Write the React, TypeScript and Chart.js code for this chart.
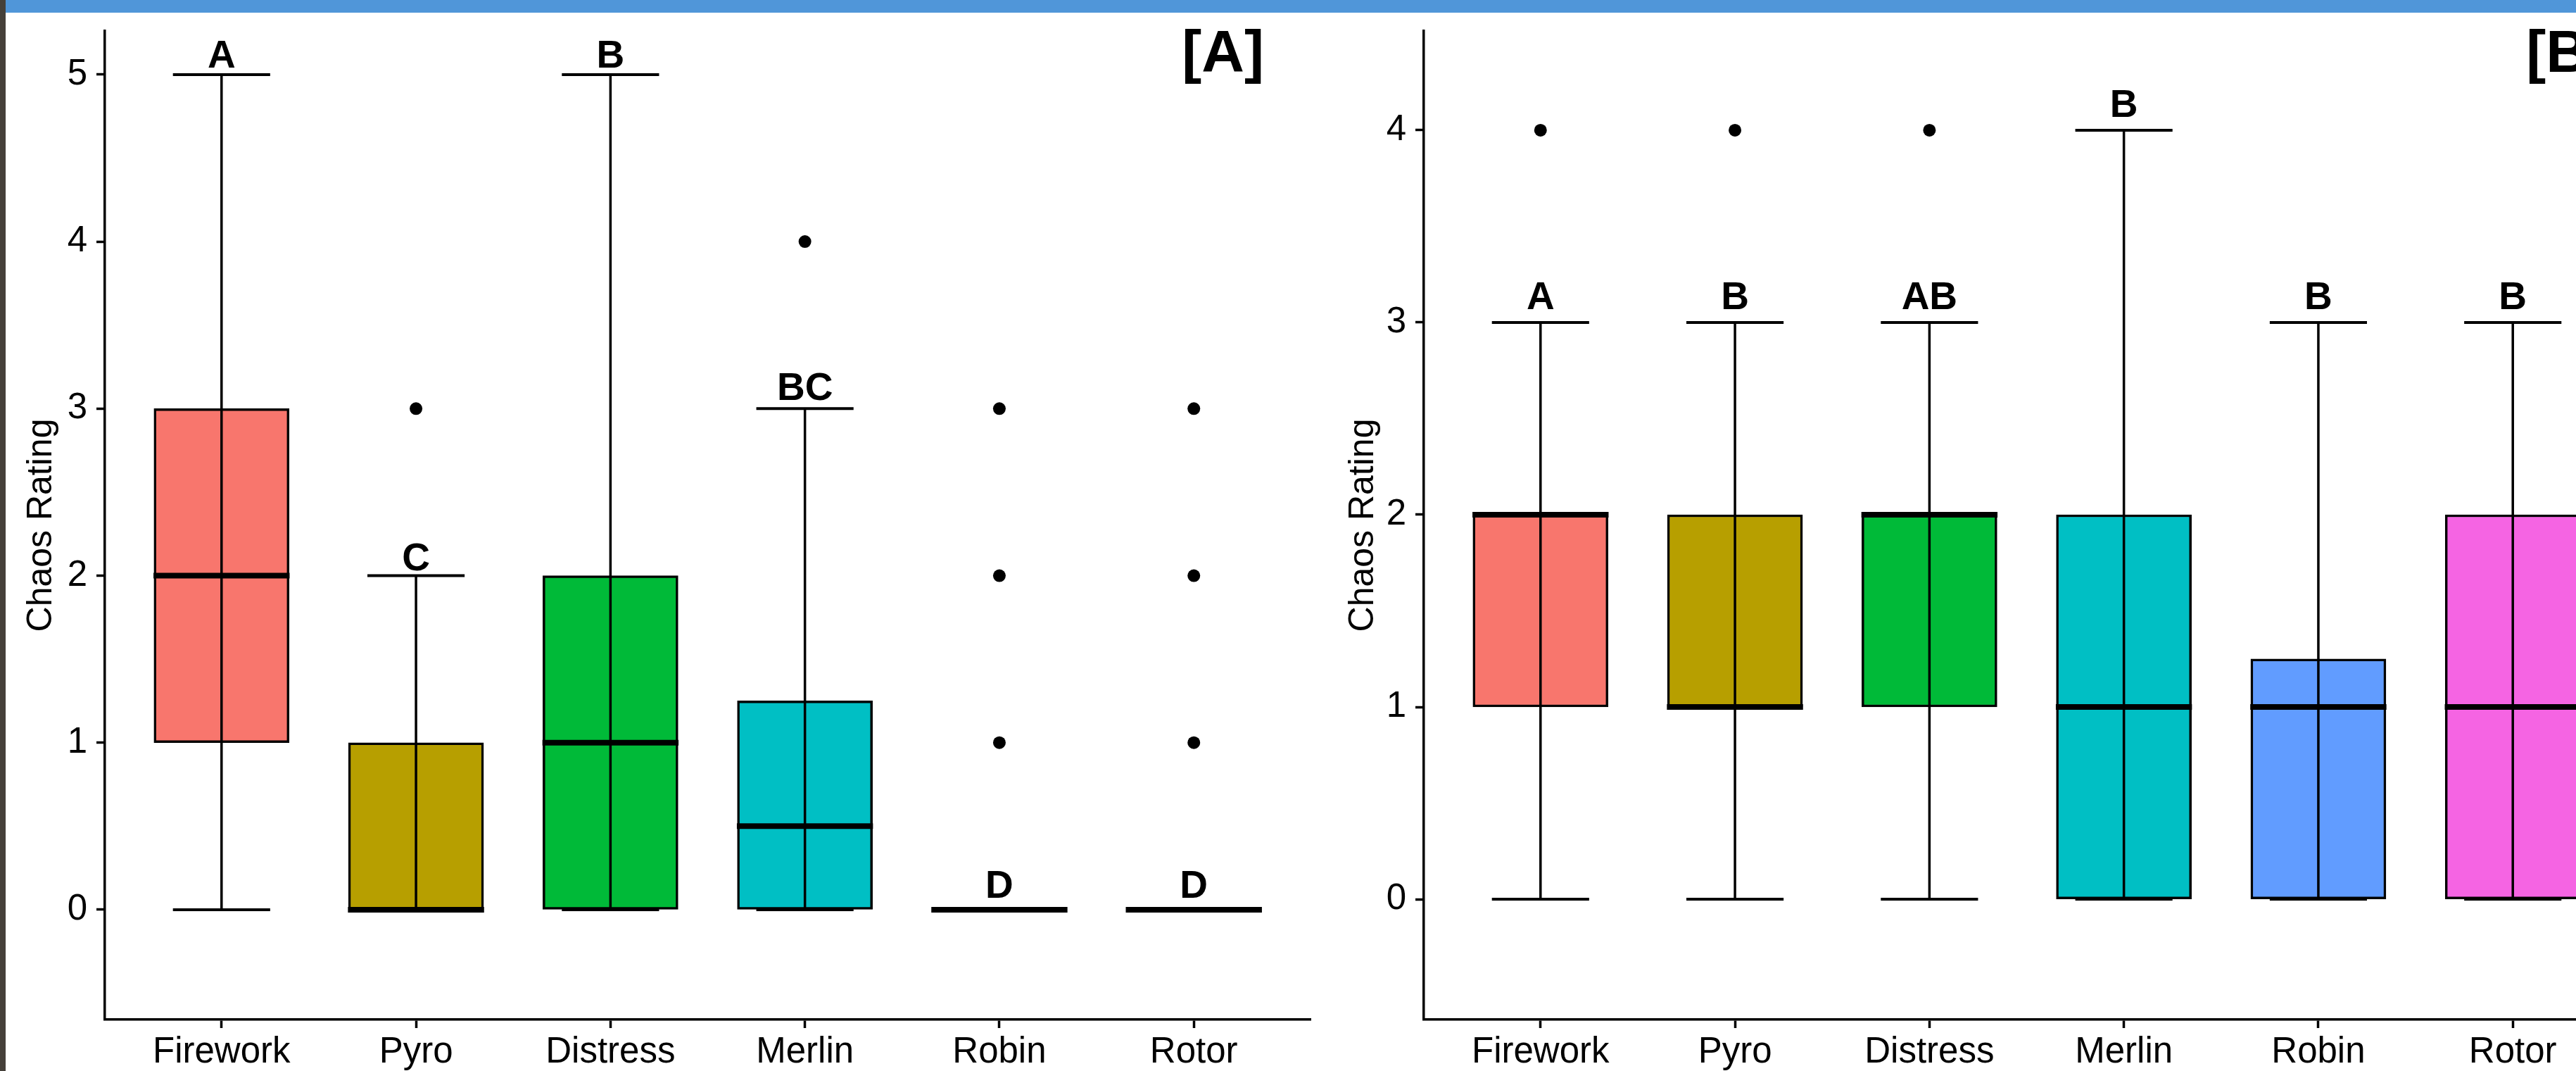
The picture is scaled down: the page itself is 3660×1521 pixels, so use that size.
import React, { useEffect, useRef } from "react";
import { Chart, registerables } from "chart.js";
Chart.register(...registerables);

const FONT = '"Liberation Sans", Arial, sans-serif';

const categories = ["Firework", "Pyro", "Distress", "Merlin", "Robin", "Rotor"];
const boxColors = ["#F8766D", "#B79F00", "#00BA38", "#00BFC4", "#619CFF", "#F564E3"];
const yTitle = "Chaos Rating";

// Panel [A]
const aWhiskerLow = [0, 0, 0, 0, 0, 0];
const aQ1 = [1, 0, 0, 0, 0, 0];
const aMedian = [2, 0, 1, 0.5, 0, 0];
const aQ3 = [3, 1, 2, 1.25, 0, 0];
const aWhiskerHigh = [5, 2, 5, 3, 0, 0];
const aOutliers: number[][] = [[], [3], [], [4], [1, 2, 3], [1, 2, 3]];
const aLetters = ["A", "C", "B", "BC", "D", "D"];
const aLetterY = [5.04, 2.03, 5.04, 3.05, 0.07, 0.07];
const aTicks = [0, 1, 2, 3, 4, 5];
const aRange = [-0.658, 5.261];
const aPanel = { text: "[A]", x: 6.15, y: 5.017 };

// Panel [B]
const bWhiskerLow = [0, 0, 0, 0, 0, 0];
const bQ1 = [1, 1, 1, 0, 0, 0];
const bMedian = [2, 1, 2, 1, 1, 1];
const bQ3 = [2, 2, 2, 2, 1.25, 2];
const bWhiskerHigh = [3, 3, 3, 4, 3, 3];
const bOutliers: number[][] = [[4], [4], [4], [], [], []];
const bLetters = ["A", "B", "AB", "B", "B", "B"];
const bLetterY = [3.07, 3.07, 3.07, 4.07, 3.07, 3.07];
const bTicks = [0, 1, 2, 3, 4];
const bRange = [-0.626, 4.516];
const bPanel = { text: "[B]", x: 6.28, y: 4.304 };

const xRange = [0.4, 6.6];

const lettersPlugin = {
  id: "boxLetters",
  afterDatasetsDraw(chart: any, _args: any, opts: any) {
    const { ctx } = chart;
    const x = chart.scales.x;
    const y = chart.scales.y;
    ctx.save();
    ctx.fillStyle = "#000";
    ctx.textAlign = "center";
    ctx.textBaseline = "alphabetic";
    ctx.font = `bold 55px ${FONT}`;
    opts.letters.forEach((t: string, i: number) => {
      ctx.fillText(t, x.getPixelForValue(i + 1), y.getPixelForValue(opts.letterY[i]));
    });
    ctx.font = `bold 84px ${FONT}`;
    ctx.fillText(opts.panel.text, x.getPixelForValue(opts.panel.x), y.getPixelForValue(opts.panel.y));
    ctx.restore();
  },
};

function buildConfig(p: any) {
  const n = categories.length;
  const boxes = categories.map((_, i) => ({ x: i + 1, y: [p.q1[i], p.q3[i]] }));
  const whiskers: any[] = [];
  const caps: any[] = [];
  const medians: any[] = [];
  const outliers: any[] = [];
  for (let i = 0; i < n; i++) {
    const c = i + 1;
    whiskers.push({ x: c, y: p.lo[i] }, { x: c, y: p.hi[i] }, { x: c + 0.5, y: null });
    caps.push(
      { x: c - 0.25, y: p.hi[i] }, { x: c + 0.25, y: p.hi[i] }, { x: c + 0.3, y: null },
      { x: c - 0.25, y: p.lo[i] }, { x: c + 0.25, y: p.lo[i] }, { x: c + 0.3, y: null }
    );
    medians.push({ x: c - 0.35, y: p.med[i] }, { x: c + 0.35, y: p.med[i] }, { x: c + 0.4, y: null });
    p.out[i].forEach((v: number) => outliers.push({ x: c, y: v }));
  }
  const axisCommon = {
    grid: {
      drawOnChartArea: false,
      drawTicks: true,
      tickLength: 12,
      tickWidth: 3.5,
      tickColor: "#000",
      color: "#000",
      offset: false,
    },
    border: { display: true, color: "#000", width: 3.5 },
  };
  const zeroPad = (s: any) => {
    s.paddingTop = 0;
    s.paddingBottom = 0;
    s.paddingLeft = 0;
    s.paddingRight = 0;
  };
  return {
    type: "bar",
    data: {
      datasets: [
        {
          type: "bar",
          data: boxes,
          backgroundColor: boxColors,
          borderColor: "#000",
          borderWidth: 3.5,
          borderSkipped: false,
          barThickness: 192,
          order: 5,
        },
        {
          type: "line",
          data: whiskers,
          borderColor: "#000",
          borderWidth: 3.5,
          pointRadius: 0,
          spanGaps: false,
          fill: false,
          order: 4,
        },
        {
          type: "line",
          data: caps,
          borderColor: "#000",
          borderWidth: 4,
          pointRadius: 0,
          spanGaps: false,
          fill: false,
          order: 3,
        },
        {
          type: "line",
          data: medians,
          borderColor: "#000",
          borderWidth: 8,
          borderCapStyle: "butt",
          pointRadius: 0,
          spanGaps: false,
          fill: false,
          order: 2,
        },
        {
          type: "scatter",
          data: outliers,
          pointRadius: 9,
          pointBackgroundColor: "#000",
          pointBorderWidth: 0,
          order: 1,
        },
      ],
    },
    options: {
      responsive: false,
      maintainAspectRatio: false,
      devicePixelRatio: 1,
      animation: false,
      events: [],
      layout: { autoPadding: false, padding: { top: 26, right: 20, bottom: 0, left: 0 } },
      plugins: {
        legend: { display: false },
        tooltip: { enabled: false },
        boxLetters: { letters: p.letters, letterY: p.letterY, panel: p.panel },
      },
      scales: {
        x: {
          type: "linear",
          min: xRange[0],
          max: xRange[1],
          offset: false,
          afterBuildTicks: (s: any) => {
            s.ticks = categories.map((_, i) => ({ value: i + 1 }));
          },
          afterFit: (s: any) => {
            s.height = 73;
            zeroPad(s);
          },
          ticks: {
            color: "#000",
            font: { family: FONT, size: 51 },
            padding: 4,
            maxRotation: 0,
            autoSkip: false,
            callback: (v: any) => categories[Math.round(Number(v)) - 1],
          },
          ...axisCommon,
        },
        y: {
          type: "linear",
          min: p.range[0],
          max: p.range[1],
          afterBuildTicks: (s: any) => {
            s.ticks = p.ticks.map((v: number) => ({ value: v }));
          },
          afterFit: (s: any) => {
            s.width = 141;
            zeroPad(s);
          },
          ticks: {
            color: "#000",
            font: { family: FONT, size: 51 },
            padding: 13,
            callback: (v: any) => String(v),
          },
          title: {
            display: true,
            text: yTitle,
            color: "#000",
            font: { family: FONT, size: 50 },
            padding: { top: p.titlePad, bottom: 0 },
          },
          ...axisCommon,
        },
      },
    },
    plugins: [lettersPlugin],
  };
}

function Panel({ left, params }: { left: number; params: any }) {
  const ref = useRef<HTMLCanvasElement | null>(null);
  useEffect(() => {
    if (!ref.current) return;
    const chart = new Chart(ref.current, buildConfig(params) as any);
    return () => chart.destroy();
  }, []);
  return (
    <canvas
      ref={ref}
      width={1874}
      height={1503}
      style={{ position: "absolute", left, top: 18, width: 1874, height: 1503 }}
    />
  );
}

const paramsA = {
  lo: aWhiskerLow, q1: aQ1, med: aMedian, q3: aQ3, hi: aWhiskerHigh, out: aOutliers,
  letters: aLetters, letterY: aLetterY, ticks: aTicks, range: aRange, panel: aPanel, titlePad: 21,
};
const paramsB = {
  lo: bWhiskerLow, q1: bQ1, med: bMedian, q3: bQ3, hi: bWhiskerHigh, out: bOutliers,
  letters: bLetters, letterY: bLetterY, ticks: bTicks, range: bRange, panel: bPanel, titlePad: 25,
};

export default function App() {
  return (
    <div
      style={{
        position: "fixed",
        left: 0,
        top: 0,
        width: 3660,
        height: 1521,
        overflow: "hidden",
        background: "#fff",
      }}
    >
      <div style={{ position: "absolute", left: 0, top: 0, width: 8, height: 1521, background: "#45403a" }} />
      <div style={{ position: "absolute", left: 8, top: 0, width: 3652, height: 18, background: "#5096d9" }} />
      <Panel left={8} params={paramsA} />
      <Panel left={1882} params={paramsB} />
    </div>
  );
}
